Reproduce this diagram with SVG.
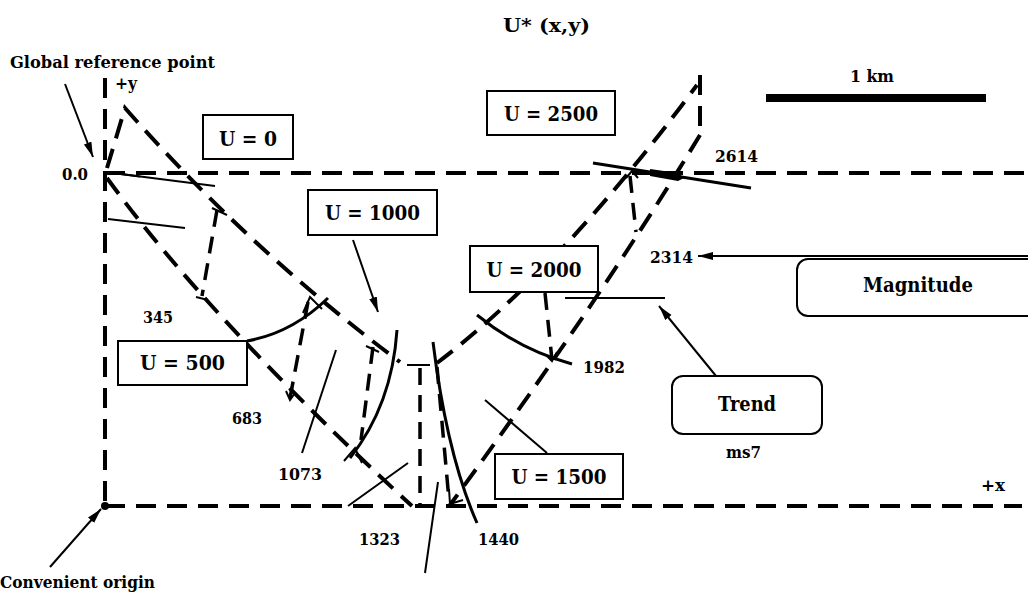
<svg xmlns="http://www.w3.org/2000/svg" width="1028" height="593" viewBox="0 0 1028 593">
<style>
text{font-family:"DejaVu Serif","Liberation Serif",serif;font-weight:bold;fill:#000}
.lbl{font-size:16px}
.box{fill:#fff;stroke:#000;stroke-width:2}
.bt{font-size:20px;text-anchor:middle}
.dash{fill:none;stroke:#000;stroke-width:4;stroke-dasharray:20 11}
.dsh{fill:none;stroke:#000;stroke-width:3.5;stroke-dasharray:17 10}
.sol{fill:none;stroke:#000;stroke-width:2}
.arc{fill:none;stroke:#000;stroke-width:3}
.arr{fill:none;stroke:#000;stroke-width:2;marker-end:url(#ah)}
</style>
<defs>
<marker id="ah" markerUnits="userSpaceOnUse" markerWidth="16" markerHeight="10" refX="15" refY="4" orient="auto">
<path d="M0,0 L15,4 L0,8 z" fill="#000"/>
</marker>
</defs>
<rect width="1028" height="593" fill="#fff"/>

<g id="axes">
<path class="dash" d="M105,78 V506"/>
<path class="dash" d="M105,173 H1028"/>
<path class="dash" d="M105,506 H1022"/>
<circle cx="105" cy="506" r="4" fill="#000"/>
</g>

<g id="connectors">
<path class="dash" d="M107,168 L125,108 Q250,250 400,362"/>
<path class="dash" d="M437,363 Q560,270 697,85"/>
<path class="dash" d="M700,75 V135"/>
<path class="dash" d="M107,178 Q210,320 412,506"/>
<path class="dash" d="M700,135 Q600,300 450,505"/>
<path class="dsh" d="M217,210 L202,296"/>
<path class="dsh" d="M308,302 L290,398"/>
<path class="dsh" d="M373,347 L361,440"/>
<path class="dsh" d="M420,368 V506"/>
<path class="dsh" d="M437,367 L449,500"/>
<path class="dsh" d="M545,293 L552,360"/>
<path class="dsh" d="M630,176 L636,232"/>
<path class="sol" stroke-width="3" d="M212,208 L227,215"/>
<path class="sol" stroke-width="3" d="M196,297 L208,300"/>
<path class="sol" stroke-width="3" d="M366,346 L379,352"/>
<path class="sol" stroke-width="3.5" d="M407,365 H430"/>
<path class="sol" stroke-width="2.5" d="M303,313 L310,297 L322,309"/>
<path class="sol" stroke-width="2.5" d="M344,461 L355,448 L362,463"/>
<path class="sol" stroke-width="2.5" d="M449,489 L450,504 L463,500"/>
<path class="sol" stroke-width="2.5" d="M286,391 L290,400 L295,393"/>
<path class="sol" stroke-width="2.5" d="M546,355 L552,361 L557,352"/>
<path class="sol" stroke-width="2.5" d="M626,178 L632,171 L638,178"/>
<path class="sol" stroke-width="3" d="M105,172 L215,186"/>
<path class="sol" stroke-width="5.5" d="M105,172 L140,176.5"/>
<path class="sol" d="M108,219 L185,228"/>
<path class="arc" d="M247,341 Q292,333 328,298"/>
<path class="arc" d="M397,330 Q392,405 350,458"/>
<path class="sol" d="M336,350 L302,453"/>
<path class="sol" d="M408,463 L348,506"/>
<path class="sol" d="M438,482 L425,573"/>
<path class="arc" stroke-width="3.5" d="M433,342 Q447,455 477,523"/>
<path class="arc" d="M477,315 Q520,350 572,364"/>
<path class="sol" d="M547,453 L485,400"/>
<path class="sol" d="M565,298 H665"/>
<path class="arc" d="M593,163 L751,188"/>
<polygon points="650,169 678,173 684,178 678,181 650,176" fill="#000"/>
<path stroke="#000" stroke-width="8" d="M766,98 H986"/>
<path class="arr" d="M65,84 L93,157"/>
<path class="arr" d="M50,567 L101,509"/>
<path class="arr" d="M353,240 L378,312"/>
<path class="arr" d="M1028,256 L698,256"/>
<path class="arr" d="M716,376 L659,306"/>
</g>

<g id="n-u0"><rect class="box" x="203" y="115" width="90" height="44"/><text class="bt" x="248" y="146" textLength="58" lengthAdjust="spacingAndGlyphs">U = 0</text></g>
<g id="n-u2500"><rect class="box" x="487" y="91" width="128" height="44"/><text class="bt" x="551" y="121" textLength="94" lengthAdjust="spacingAndGlyphs">U = 2500</text></g>
<g id="n-u1000"><rect class="box" x="308" y="190" width="129" height="45"/><text class="bt" x="372.5" y="220" textLength="95" lengthAdjust="spacingAndGlyphs">U = 1000</text></g>
<g id="n-u2000"><rect class="box" x="470" y="246" width="128" height="46"/><text class="bt" x="534" y="277" textLength="95" lengthAdjust="spacingAndGlyphs">U = 2000</text></g>
<g id="n-u500"><rect class="box" x="118" y="341" width="129" height="44"/><text class="bt" x="182.5" y="370" textLength="85" lengthAdjust="spacingAndGlyphs">U = 500</text></g>
<g id="n-u1500"><rect class="box" x="495" y="454" width="128" height="45"/><text class="bt" x="559" y="484" textLength="95" lengthAdjust="spacingAndGlyphs">U = 1500</text></g>
<g id="n-magnitude"><rect class="box" x="797" y="259" width="245" height="57" rx="11"/><text class="bt" x="918" y="292" font-size="19" textLength="110" lengthAdjust="spacingAndGlyphs">Magnitude</text></g>
<g id="n-trend"><rect class="box" x="672" y="376" width="150" height="58" rx="11"/><text class="bt" x="747" y="411" font-size="19" textLength="58" lengthAdjust="spacingAndGlyphs">Trend</text></g>

<g id="labels">
<text x="503" y="32" font-size="19" textLength="87" lengthAdjust="spacingAndGlyphs">U* (x,y)</text>
<text x="10" y="68" font-size="17" textLength="205" lengthAdjust="spacingAndGlyphs">Global reference point</text>
<text class="lbl" x="115" y="89" textLength="22" lengthAdjust="spacingAndGlyphs">+y</text>
<text class="lbl" x="62" y="180" textLength="26" lengthAdjust="spacingAndGlyphs">0.0</text>
<text class="lbl" x="850" y="82" textLength="44" lengthAdjust="spacingAndGlyphs">1 km</text>
<text class="lbl" x="715" y="162" textLength="43" lengthAdjust="spacingAndGlyphs">2614</text>
<text class="lbl" x="650" y="263" textLength="43" lengthAdjust="spacingAndGlyphs">2314</text>
<text class="lbl" x="726" y="458" textLength="35" lengthAdjust="spacingAndGlyphs">ms7</text>
<text class="lbl" x="981" y="491" textLength="24" lengthAdjust="spacingAndGlyphs">+x</text>
<text class="lbl" x="143" y="323" textLength="30" lengthAdjust="spacingAndGlyphs">345</text>
<text class="lbl" x="232" y="424" textLength="30" lengthAdjust="spacingAndGlyphs">683</text>
<text class="lbl" x="278" y="480" textLength="44" lengthAdjust="spacingAndGlyphs">1073</text>
<text class="lbl" x="359" y="545" textLength="41" lengthAdjust="spacingAndGlyphs">1323</text>
<text class="lbl" x="478" y="545" textLength="41" lengthAdjust="spacingAndGlyphs">1440</text>
<text class="lbl" x="583" y="373" textLength="42" lengthAdjust="spacingAndGlyphs">1982</text>
<text x="0" y="588" font-size="17" textLength="155" lengthAdjust="spacingAndGlyphs">Convenient origin</text>
</g>
</svg>
